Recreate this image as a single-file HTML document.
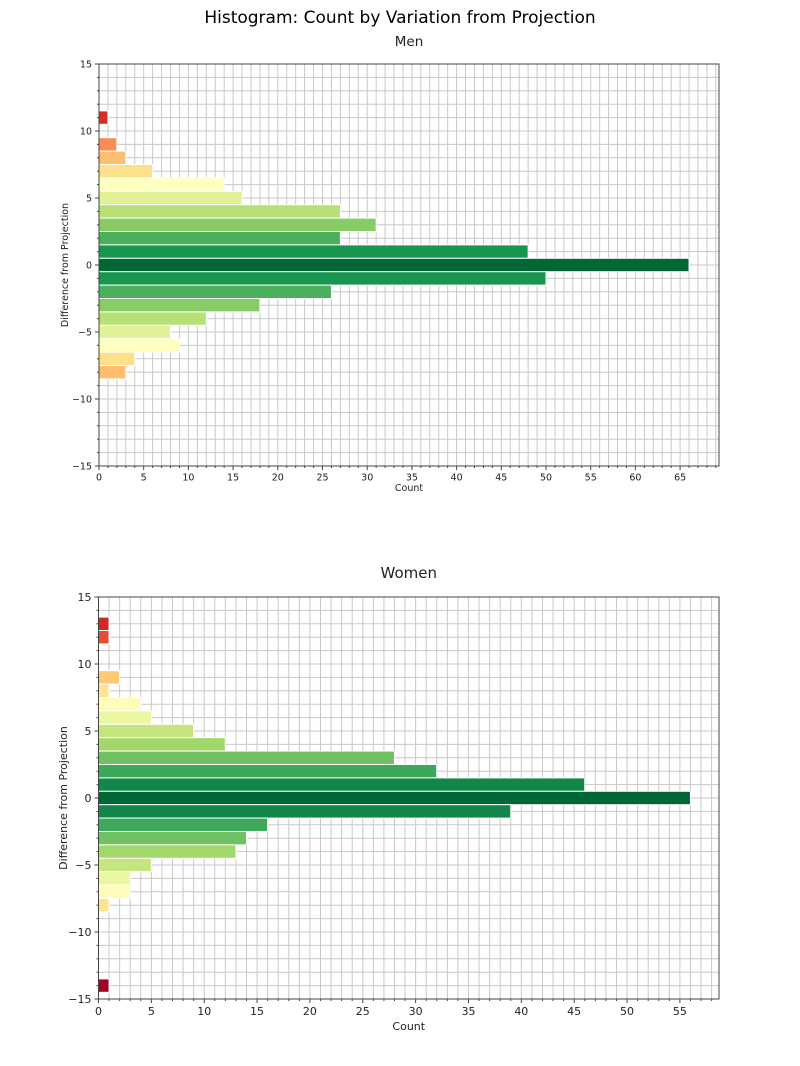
<!DOCTYPE html>
<html><head><meta charset="utf-8"><style>
html,body{margin:0;padding:0;background:#fff;}
svg{display:block;font-family:"DejaVu Sans","Liberation Sans",sans-serif;}
</style></head><body>
<svg id="s" width="800" height="1066" xmlns="http://www.w3.org/2000/svg">
<text x="400" y="23" text-anchor="middle" font-size="17" fill="#000">Histogram: Count by Variation from Projection</text>
</svg>
<script>
const NS="http://www.w3.org/2000/svg";
const s=document.getElementById('s');
function el(t,a,txt){const e=document.createElementNS(NS,t);for(const k in a)e.setAttribute(k,a[k]);if(txt!==undefined)e.textContent=txt;s.appendChild(e);return e;}
function plot(o){
 const {x0,x1,y0,y1,xmax,xstep,bars,fs,title,ty,xlabY,ylabX}=o;
 const sx=v=>x0+v*(x1-x0)/xmax, sy=v=>y0+(15-v)*(y1-y0)/30;
 for(let i=0;i<=Math.floor(xmax);i++){el('line',{x1:sx(i),x2:sx(i),y1:y0,y2:y1,stroke:'#c8c8c8','stroke-width':1});}
 for(let v=-15;v<=15;v++){el('line',{x1:x0,x2:x1,y1:sy(v),y2:sy(v),stroke:'#c8c8c8','stroke-width':1});}
 for(const [v,c,col] of bars){el('rect',{x:x0,y:sy(v+0.5),width:sx(c)-x0,height:sy(v-0.5)-sy(v+0.5),fill:col,stroke:'#fff','stroke-width':1});}
 el('rect',{x:x0,y:y0,width:x1-x0,height:y1-y0,fill:'none',stroke:'#444','stroke-width':1});
 for(let i=0;i<=Math.floor(xmax);i++){const maj=i%xstep==0;el('line',{x1:sx(i),x2:sx(i),y1:y1,y2:y1+(maj?4:2),stroke:'#444'});
  if(maj)el('text',{x:sx(i),y:y1+fs+5,'text-anchor':'middle','font-size':fs,fill:'#222'},String(i));}
 for(let v=-15;v<=15;v++){const maj=v%5==0;el('line',{x1:x0,x2:x0-(maj?4:2),y1:sy(v),y2:sy(v),stroke:'#444'});
  if(maj)el('text',{x:x0-7,y:sy(v)+fs*0.35,'text-anchor':'end','font-size':fs,fill:'#222'},(v<0?'\u2212':'')+Math.abs(v));}
 el('text',{x:(x0+x1)/2,y:ty,'text-anchor':'middle','font-size':fs+4,fill:'#222'},title);
 el('text',{x:(x0+x1)/2,y:xlabY,'text-anchor':'middle','font-size':fs,fill:'#222'},'Count');
 el('text',{x:ylabX,y:(y0+y1)/2,'text-anchor':'middle','font-size':fs,fill:'#222',transform:`rotate(-90 ${ylabX} ${(y0+y1)/2})`},'Difference from Projection');
}
plot({x0:99,x1:719,y0:64,y1:466,xmax:69.35,xstep:5,fs:9.5,title:'Men',ty:46,xlabY:491,ylabX:68,
bars:[[11,1,'#d62f27'],[9,2,'#f88d51'],[8,3,'#fdbe6f'],[7,6,'#fee08b'],[6,14,'#ffffbf'],[5,16,'#e0f295'],[4,27,'#b7e075'],[3,31,'#88cc66'],[2,27,'#4bb05c'],[1,48,'#18954f'],[0,66,'#006837'],[-1,50,'#18954f'],[-2,26,'#4bb05c'],[-3,18,'#88cc66'],[-4,12,'#b7e075'],[-5,8,'#e0f295'],[-6,9,'#ffffbf'],[-7,4,'#fee08b'],[-8,3,'#fdbe6f']]});
plot({x0:98.5,x1:719,y0:597,y1:999,xmax:58.7,xstep:5,fs:11,title:'Women',ty:578,xlabY:1030,ylabX:67,
bars:[[13,1,'#d02927'],[12,1,'#e54e35'],[9,2,'#fec877'],[8,1,'#fee491'],[7,4,'#fffcba'],[6,5,'#eaf79e'],[5,9,'#c5e67e'],[4,12,'#a2d76a'],[3,28,'#70c164'],[2,32,'#3da85a'],[1,46,'#11874c'],[0,56,'#006837'],[-1,39,'#11874c'],[-2,16,'#3da85a'],[-3,14,'#70c164'],[-4,13,'#a2d76a'],[-5,5,'#c5e67e'],[-6,3,'#eaf79e'],[-7,3,'#fffcba'],[-8,1,'#fee491'],[-14,1,'#a50026']]});
</script>
</body></html>
